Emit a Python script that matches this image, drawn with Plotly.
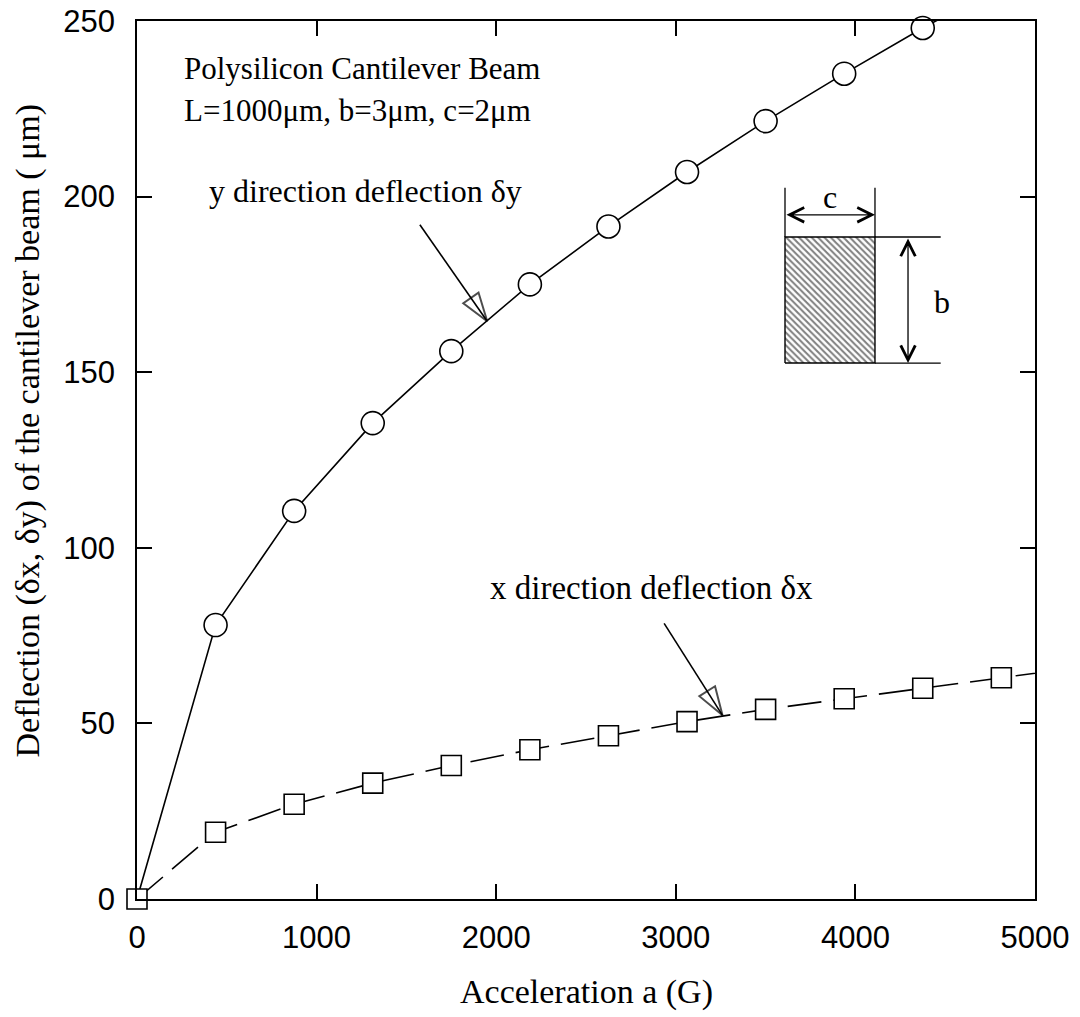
import plotly.graph_objects as go

# ---------------- data ----------------
accel_y = [0, 437.5, 875, 1312.5, 1750, 2187.5, 2625, 3062.5, 3500, 3937.5, 4375, 4812.5]
defl_y = [0, 78, 110.5, 135.5, 156, 175, 191.5, 207, 221.5, 235, 248, 260]

accel_x = [0, 437.5, 875, 1312.5, 1750, 2187.5, 2625, 3062.5, 3500, 3937.5, 4375, 4812.5, 5250]
defl_x = [0, 19, 27, 33, 38, 42.5, 46.5, 50.5, 54, 57, 60, 63, 66]

x_ticks = [0, 1000, 2000, 3000, 4000, 5000]
y_ticks = [0, 50, 100, 150, 200, 250]

SERIF = "Liberation Serif, Times New Roman, serif"
SANS = "Liberation Sans, Arial, sans-serif"
TXT = 32

fig = go.Figure()

# y-direction deflection (circles, solid)
fig.add_trace(go.Scatter(
    x=accel_y, y=defl_y, mode="lines",
    line=dict(color="black", width=1.6), showlegend=False, hoverinfo="skip"))
fig.add_trace(go.Scatter(
    x=accel_y[1:-1], y=defl_y[1:-1], mode="markers", cliponaxis=False,
    marker=dict(symbol="circle", size=23, color="white",
                line=dict(color="black", width=1.6)),
    showlegend=False))

# x-direction deflection (squares, dashed)
fig.add_trace(go.Scatter(
    x=accel_x, y=defl_x, mode="lines",
    line=dict(color="black", width=1.6, dash="34px,12px"),
    showlegend=False, hoverinfo="skip"))
fig.add_trace(go.Scatter(
    x=accel_x[:-1], y=defl_x[:-1], mode="markers", cliponaxis=False,
    marker=dict(symbol="square", size=20, color="white",
                line=dict(color="black", width=1.6)),
    showlegend=False))

# pointer arrows
arrow_y_tail = (1575, 192)
arrow_y_tip = (1950, 164.5)
arrow_x_tail = (2935, 78.5)
arrow_x_tip = (3260, 52.3)
for tail, tip in [(arrow_y_tail, arrow_y_tip), (arrow_x_tail, arrow_x_tip)]:
    fig.add_trace(go.Scatter(
        x=[tail[0], tip[0]], y=[tail[1], tip[1]], mode="lines+markers",
        line=dict(color="black", width=1.6),
        marker=dict(symbol="arrow-open", size=[0, 30], angleref="previous",
                    color="black", line=dict(color="black", width=2)),
        showlegend=False, hoverinfo="skip"))

# inset cross-section with hatching
rect_x0, rect_x1 = 3608, 4109
rect_y0, rect_y1 = 152.6, 188.5
fig.add_trace(go.Scatter(
    x=[rect_x0, rect_x1, rect_x1, rect_x0, rect_x0],
    y=[rect_y0, rect_y0, rect_y1, rect_y1, rect_y0],
    mode="lines", fill="toself", fillcolor="white",
    fillpattern=dict(shape="\\", size=4.5, solidity=0.45, fgcolor="black", bgcolor="white"),
    line=dict(color="black", width=1.4), showlegend=False, hoverinfo="skip"))

ext_top = 202.5
ext_right = 4475
c_arrow_y = 194.8
b_arrow_x = 4293
shapes = [
    dict(type="line", x0=rect_x0, x1=rect_x0, y0=rect_y1, y1=ext_top),
    dict(type="line", x0=rect_x1, x1=rect_x1, y0=rect_y1, y1=ext_top),
    dict(type="line", x0=rect_x1, x1=ext_right, y0=rect_y1, y1=rect_y1),
    dict(type="line", x0=rect_x1, x1=ext_right, y0=rect_y0, y1=rect_y0),
]
for s in shapes:
    s.update(xref="x", yref="y", line=dict(color="black", width=1.3))

annotations = [
    dict(x=rect_x1, y=c_arrow_y, ax=rect_x0, ay=c_arrow_y, axref="x", ayref="y",
         xref="x", yref="y", text="", showarrow=True, arrowside="end+start",
         arrowhead=5, startarrowhead=5, arrowsize=2.2, startarrowsize=2.2, arrowwidth=1.3,
         standoff=0, startstandoff=0, arrowcolor="black"),
    dict(x=b_arrow_x, y=rect_y0, ax=b_arrow_x, ay=rect_y1, axref="x", ayref="y",
         xref="x", yref="y", text="", showarrow=True, arrowside="end+start",
         arrowhead=5, startarrowhead=5, arrowsize=2.2, startarrowsize=2.2, arrowwidth=1.3,
         standoff=0, startstandoff=0, arrowcolor="black"),
    dict(x=(rect_x0 + rect_x1) / 2, y=200, xref="x", yref="y", text="c",
         showarrow=False, font=dict(family=SERIF, size=TXT, color="black")),
    dict(x=4480, y=170, xref="x", yref="y", text="b",
         showarrow=False, font=dict(family=SERIF, size=TXT, color="black")),
    dict(x=250, y=236.5, xref="x", yref="y", text="Polysilicon Cantilever Beam",
         xanchor="left", showarrow=False, font=dict(family=SERIF, size=31, color="black")),
    dict(x=250, y=224.5, xref="x", yref="y", text="L=1000μm, b=3μm, c=2μm",
         xanchor="left", showarrow=False, font=dict(family=SERIF, size=31, color="black")),
    dict(x=1270, y=201.5, xref="x", yref="y", text="y direction deflection δy",
         showarrow=False, font=dict(family=SERIF, size=TXT, color="black")),
    dict(x=2867, y=88.5, xref="x", yref="y", text="x direction deflection δx",
         showarrow=False, font=dict(family=SERIF, size=TXT + 1, color="black")),
    # y-axis title
    dict(x=-0.121, y=0.534, xref="paper", yref="paper", xanchor="center", yanchor="middle",
         text="Deflection (δx, δy) of the cantilever beam ( μm)", textangle=-90,
         showarrow=False, font=dict(family=SERIF, size=34, color="black")),
    # x-axis title
    dict(x=0.5, y=-0.106, xref="paper", yref="paper", xanchor="center", yanchor="middle",
         text="Acceleration a (G)", showarrow=False,
         font=dict(family=SERIF, size=34, color="black")),
]

axis_common = dict(
    showline=True, linecolor="black", linewidth=1.8, mirror="ticks",
    ticks="inside", ticklen=15, tickwidth=1.5, tickcolor="black",
    showgrid=False, zeroline=False, automargin=False,
    tickfont=dict(family=SANS, size=31, color="black"),
)

fig.update_layout(
    width=1080, height=1017,
    margin=dict(l=137, r=45, t=21, b=118),
    paper_bgcolor="white", plot_bgcolor="white",
    shapes=shapes, annotations=annotations,
    xaxis=dict(range=[0, 5000], tickvals=x_ticks, ticktext=[str(v) for v in x_ticks],
               ticklabelstandoff=10, **axis_common),
    yaxis=dict(range=[0, 250], tickvals=y_ticks, ticktext=[str(v) for v in y_ticks],
               ticklabelstandoff=14, **axis_common),
)

fig.write_html("out.html")
